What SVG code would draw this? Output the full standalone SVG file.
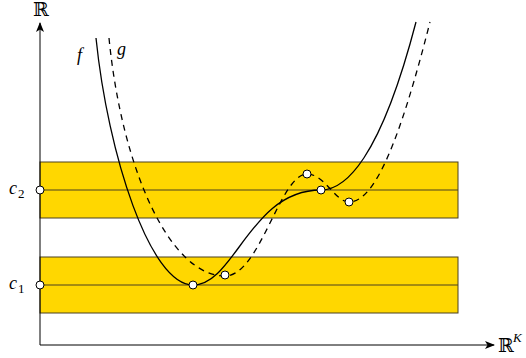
<svg xmlns="http://www.w3.org/2000/svg" width="526" height="358" viewBox="0 0 526 358">
<style>
.band{fill:#FFD700;stroke:#4a4020;stroke-width:1}
.line{stroke:#4a4020;stroke-width:1;fill:none}
.axis{stroke:#000;stroke-width:1;fill:none}
.f{stroke:#000;stroke-width:1.3;fill:none}
.g{stroke:#000;stroke-width:1.3;fill:none;stroke-dasharray:6 5}
.pt{fill:#fff;stroke:#000;stroke-width:1}
text{font-family:'Liberation Serif','Times New Roman','DejaVu Serif',serif;font-size:18px;fill:#000}
.it{font-style:italic}
.sub{font-size:13px}
.bb{font-size:19px}
</style>
<defs>
<marker id="ah" markerWidth="10" markerHeight="8" refX="9" refY="4" orient="auto" markerUnits="userSpaceOnUse">
<path d="M0,0 L10,4 L0,8 L2.5,4 Z" fill="#000"/>
</marker>
</defs>
<g id="bands">
<rect class="band" x="40" y="162" width="418" height="56"/>
<line class="line" x1="40" y1="190" x2="458" y2="190"/>
<rect class="band" x="40" y="257" width="418" height="56"/>
<line class="line" x1="40" y1="285" x2="458" y2="285"/>
</g>
<g id="axes">
<line class="axis" x1="40" y1="345" x2="40" y2="23" marker-end="url(#ah)"/>
<line class="axis" x1="40" y1="345" x2="494" y2="345" marker-end="url(#ah)"/>
<text class="bb" x="41" y="16" text-anchor="middle">ℝ</text>
<text class="bb" x="498" y="352">ℝ</text>
<text class="it sub" x="513" y="342">K</text>
</g>
<g id="connectors">
<path class="f" d="M96,38 C108,155 150,285 193,285 C235,285 250,190 321,190 C345,190 380,160 416,22"/>
<path class="g" d="M109,38 C122,170 170,276 225,276 C260,276 280,174 307,174 C325,174 335,202 349,202 C375,202 400,140 430,22"/>
</g>
<g id="labels">
<text class="it" x="77" y="61">f</text>
<text class="it" x="117" y="55">g</text>
<text class="it" x="9" y="194">c</text>
<text class="sub" x="18" y="198">2</text>
<text class="it" x="9" y="289">c</text>
<text class="sub" x="18" y="293">1</text>
</g>
<g id="points">
<circle class="pt" cx="40" cy="190" r="4"/>
<circle class="pt" cx="40" cy="285" r="4"/>
<circle class="pt" cx="193" cy="285" r="4"/>
<circle class="pt" cx="225" cy="275" r="4"/>
<circle class="pt" cx="307" cy="174" r="4"/>
<circle class="pt" cx="321" cy="190" r="4"/>
<circle class="pt" cx="349" cy="202" r="4"/>
</g>
</svg>
